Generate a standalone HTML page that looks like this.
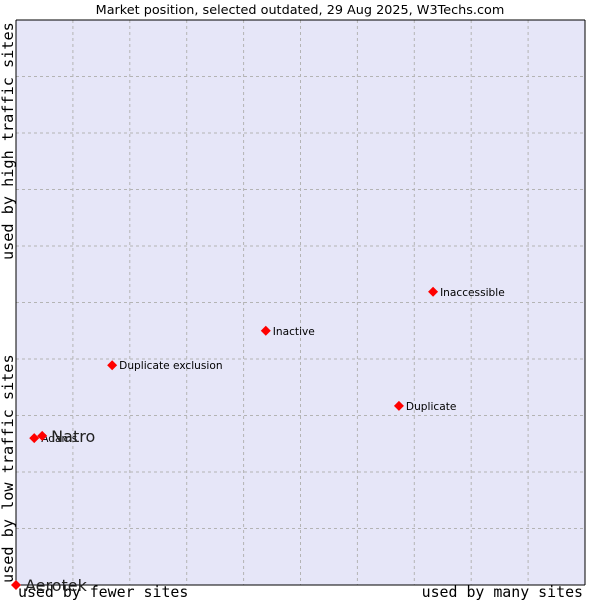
<!DOCTYPE html>
<html><head><meta charset="utf-8"><style>
body{margin:0;background:#fff}
svg{display:block}
</style></head><body>
<svg id="chart" width="600" height="600" xmlns="http://www.w3.org/2000/svg">
<rect x="0" y="0" width="600" height="600" fill="#fff"/>
<text x="300" y="14" text-anchor="middle" font-family="DejaVu Sans, sans-serif" font-size="12.8" fill="#000">Market position, selected outdated, 29 Aug 2025, W3Techs.com</text>
<rect x="16" y="20" width="569" height="565" fill="#e6e6f8"/>
<g id="grid"></g>
<line x1="16" y1="585" x2="585" y2="585" stroke="#000"/>
<line x1="16" y1="20" x2="16" y2="585" stroke="#000"/>
<line x1="585" y1="20" x2="585" y2="585" stroke="#000"/>
<line x1="16" y1="20" x2="585" y2="20" stroke="#000"/>
<text x="18" y="597" font-family="DejaVu Sans Mono, monospace" font-size="14.9" fill="#000">used by fewer sites</text>
<text x="583" y="597" text-anchor="end" font-family="DejaVu Sans Mono, monospace" font-size="14.9" fill="#000">used by many sites</text>
<text transform="translate(13,583) rotate(-90)" font-family="DejaVu Sans Mono, monospace" font-size="15.2" fill="#000">used by low traffic sites</text>
<text transform="translate(13,260) rotate(-90)" font-family="DejaVu Sans Mono, monospace" font-size="15.2" fill="#000">used by high traffic sites</text>
<g id="points"></g>
</svg>
<script>
const names = ["Aerotek","Adams","Natro","Duplicate exclusion","Inactive","Inaccessible","Duplicate"];
const xValues = [0, 3.2, 4.6, 16.9, 43.9, 73.3, 67.3];
const yValues = [0, 26.0, 26.4, 38.9, 45.0, 51.9, 31.7];
const bigLabel = [true, false, true, false, false, false, false];
const gridTicks = [0,10,20,30,40,50,60,70,80,90,100];

const X0=16, X1=585, Y0=585, Y1=20;
function xs(v){return X0+(X1-X0)*v/100;}
function ys(v){return Y0-(Y0-Y1)*v/100;}
const NS="http://www.w3.org/2000/svg";
const grid=document.getElementById('grid');
gridTicks.forEach(t=>{
  const v=document.createElementNS(NS,'line');
  
  
  v.setAttribute('x1',xs(t));v.setAttribute('x2',xs(t));v.setAttribute('y1',Y1);v.setAttribute('y2',Y0);
  v.setAttribute('stroke','#b4b4b4');v.setAttribute('stroke-dasharray','3,3');
  grid.appendChild(v);
  const h=document.createElementNS(NS,'line');
  
  
  h.setAttribute('x1',X0);h.setAttribute('x2',X1);h.setAttribute('y1',ys(t));h.setAttribute('y2',ys(t));
  h.setAttribute('stroke','#b4b4b4');h.setAttribute('stroke-dasharray','3,3');
  grid.appendChild(h);
});
const pts=document.getElementById('points');
names.forEach((n,i)=>{
  const x=xs(xValues[i]), y=ys(yValues[i]);
  const d=document.createElementNS(NS,'polygon');
  
  
  d.setAttribute('points',`${x},${y-5} ${x+5},${y} ${x},${y+5} ${x-5},${y}`);
  d.setAttribute('fill','#ff0000');
  pts.appendChild(d);
  const t=document.createElementNS(NS,'text');
  
  
  t.setAttribute('x',x+(bigLabel[i]?9:7));
  t.setAttribute('y',y+(bigLabel[i]?6:4));
  t.setAttribute('font-family','DejaVu Sans, sans-serif');
  t.setAttribute('font-size',bigLabel[i]?'16':'10.6');
  t.setAttribute('fill',bigLabel[i]?'#222':'#000');
  t.textContent=n;
  pts.appendChild(t);
});
</script>
</body></html>
